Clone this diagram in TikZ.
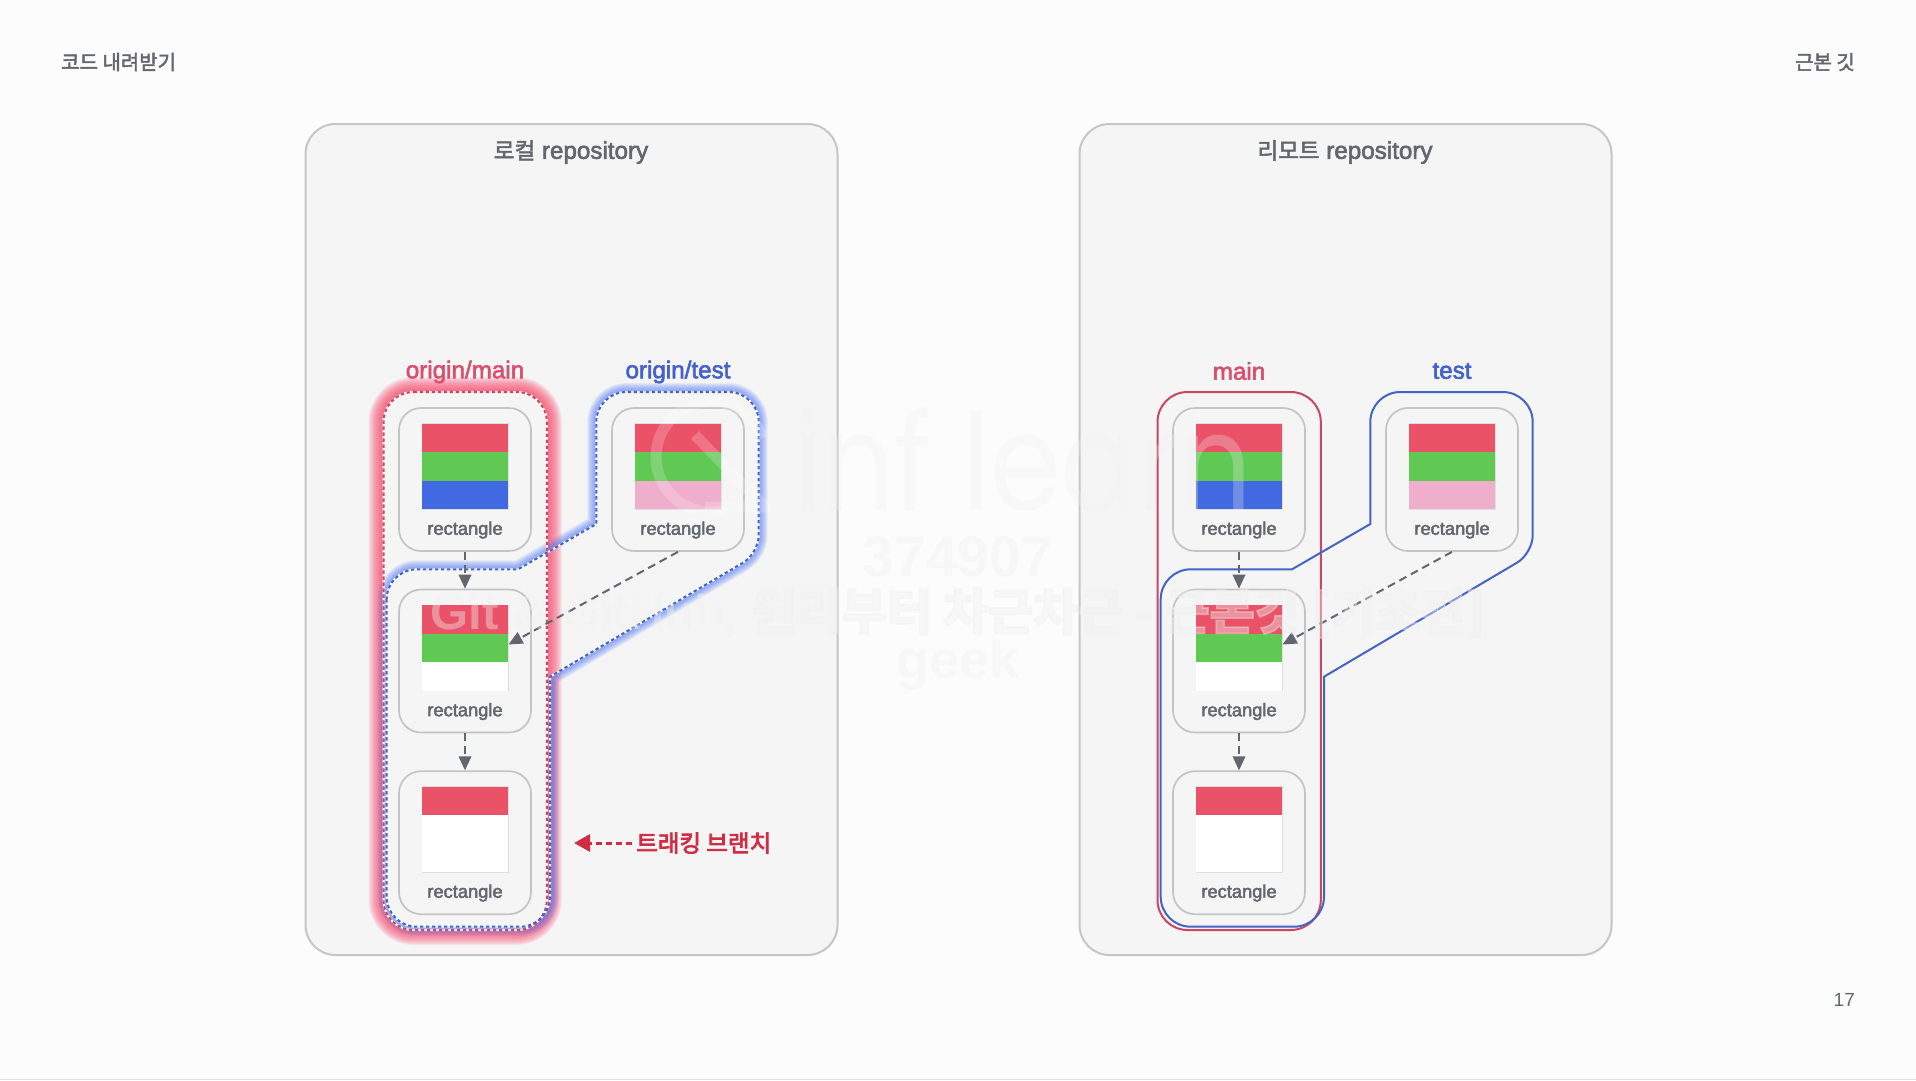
\documentclass[tikz,border=0pt]{standalone}
\usepackage{fontspec}
\usetikzlibrary{arrows.meta}
\setmainfont{Liberation Sans}
\newfontfamily\lat[FakeBold=2.4]{Liberation Sans}
\newfontfamily\kr[FakeBold=2.2]{Noto Sans CJK KR}
\newfontfamily\krb[FakeBold=3.2]{Noto Sans CJK KR}
\newfontfamily\logofont{Poppins}
\newcommand{\fsz}[1]{\fontsize{#1}{#1}\selectfont}
\definecolor{pagebg}{HTML}{FCFCFC}
\definecolor{panelbg}{HTML}{F5F5F6}
\definecolor{panelline}{HTML}{C6C6C6}
\definecolor{cardline}{HTML}{C4C4C4}
\definecolor{ink}{HTML}{62666D}
\definecolor{sred}{HTML}{EA5268}
\definecolor{sgreen}{HTML}{60C954}
\definecolor{sblue}{HTML}{4169E1}
\definecolor{spink}{HTML}{EFAECB}
\definecolor{lred}{HTML}{D9506E}
\definecolor{lblue}{HTML}{4562C9}
\definecolor{ored}{HTML}{C9475F}
\definecolor{oblue}{HTML}{4464C4}
\definecolor{gred}{HTML}{FB4F70}
\definecolor{gblue}{HTML}{4A74F5}
\definecolor{track}{HTML}{D22C44}
\definecolor{wminkcol}{HTML}{F0F0F0}
\tikzset{
  panel/.style={draw=panelline,fill=panelbg,line width=2pt,rounded corners=30pt},
  card/.style={draw=cardline,fill=panelbg,line width=1.7pt,rounded corners=22pt,minimum width=132pt,minimum height=143pt,inner sep=0pt},
  cardtext/.style={font=\lat\fsz{18.3},text=ink,inner sep=0pt},
  branch/.style={font=\lat\fsz{24.2},inner sep=0pt},
  title/.style={font=\lat\fsz{24.2},text=ink,inner sep=0pt},
  link/.style={draw=ink,line width=2pt,dash pattern=on 8pt off 5pt,-{Triangle[length=14pt,width=12.5pt]}},
  wmark/.style={opacity=0.4,text=wminkcol,inner sep=0pt},
}
\newcommand{\redshape}{[rounded corners=30pt] (383.5,392) -- (546.8,392) -- (546.8,930) -- (383.5,930) -- cycle}
\newcommand{\blueshape}{(386.7,600) [rounded corners=30pt] -- (386.7,569.3) [sharp corners] -- (518,569.3) -- (596.3,524) [rounded corners=30pt] -- (596.3,392) -- (758.7,392) [rounded corners=18pt] -- (758.7,553.4) [sharp corners] -- (550,676.7) [rounded corners=30pt] -- (550,926.7) -- (386.7,926.7) [sharp corners] -- cycle}
\newcommand{\swatch}[5]{%
  \fill[white] (#1-43,#2) rectangle (#1+43,#2+85.6);
  \draw[draw=black!12,line width=.8pt] (#1-43,#2) rectangle (#1+43,#2+85.6);
  \fill[#3] (#1-43,#2) rectangle (#1+43,#2+28.5);
  \fill[#4] (#1-43,#2+28.5) rectangle (#1+43,#2+57);
  \fill[#5] (#1-43,#2+57) rectangle (#1+43,#2+85.6);
}
\newcommand{\glow}[4]{%
  \begin{scope}[even odd rule]
    \clip (-10,-10) rectangle (1926,1090) #2;
    \foreach \w in {#3}
      \draw[draw=#1,line width=\w pt,opacity=#4,line join=round] #2;
  \end{scope}
}
\begin{document}
\begin{tikzpicture}[x=1pt,y=-1pt]
\useasboundingbox (0,0) rectangle (1916,1080);
\fill[pagebg] (0,0) rectangle (1916,1080);
\fill[black!12] (0,1078.8) rectangle (1916,1080);

\node[font=\kr\fsz{20},text=ink,anchor=west,inner sep=0pt] (head) at (61,62) {코드 내려받기};
\node[font=\kr\fsz{20},text=ink,anchor=east,inner sep=0pt] (topic) at (1855,62) {근본 깃};
\node[font=\fsz{19},text=ink,anchor=east,inner sep=0pt] (page) at (1855,1000) {17};

\node[panel,minimum width=532pt,minimum height=831pt] (pl) at (571.5,539.5) {};
\node[panel,minimum width=532pt,minimum height=831pt] (pr) at (1345.5,539.5) {};
\node[title] (tl) at (571,152) {{\kr\fsz{22.5}로컬} repository};
\node[title] (tr) at (1345,152) {{\kr\fsz{22.5}리모트} repository};

\node[branch,text=lred] (om) at (465,372) {origin/main};
\node[branch,text=lblue] (ot) at (678,372) {origin/test};
\node[branch,text=lred] (rm) at (1239,371) {main};
\node[branch,text=lblue] (rt) at (1452,371) {test};

% local branch outlines with glow
\glow{gred}{\redshape}{30,28,26,24,22,20,18,16,14,12,10,8,6,4}{0.1}
\glow{gblue}{\blueshape}{18,16,14,12,10,8,6,4}{0.1}
\draw[white,line width=2pt] \redshape;
\draw[white,line width=2pt] \blueshape;
\draw[ored,line width=2pt,dash pattern=on 3.5pt off 2.5pt] \redshape;
\draw[oblue,line width=2pt,dash pattern=on 3.5pt off 2.5pt] \blueshape;

% remote branch outlines
\begin{scope}[shift={(774,0)}]
  \draw[ored,line width=2pt] \redshape;
  \draw[oblue,line width=2pt] \blueshape;
\end{scope}

% commits
\foreach \dx/\p in {0/a,774/b}{
\begin{scope}[shift={(\dx,0)}]
  \node[card] (\p1) at (465,479.5) {};
  \node[card] (\p2) at (465,661) {};
  \node[card] (\p3) at (465,842.7) {};
  \node[card] (\p4) at (678,479.5) {};
  \swatch{465}{423.7}{sred}{sgreen}{sblue}
  \swatch{465}{605}{sred}{sgreen}{white}
  \swatch{465}{786.7}{sred}{white}{white}
  \swatch{678.3}{423.7}{sred}{sgreen}{spink}
  \node[cardtext] (\p1t) at (465,530) {rectangle};
  \node[cardtext] (\p2t) at (465,711.5) {rectangle};
  \node[cardtext] (\p3t) at (465,893) {rectangle};
  \node[cardtext] (\p4t) at (678,530) {rectangle};
  \coordinate (\p tip) at (508.5,644.5);
  \draw[link] (\p1.south) -- (\p2.north);
  \draw[link] (\p2.south) -- (\p3.north);
  \draw[link] (\p4.south) -- (\p tip);
\end{scope}
}

% tracking label
\node[font=\krb\fsz{23.5},text=track,inner sep=0pt,anchor=west] (tk) at (636,843) {트래킹 브랜치};
\coordinate (tkend) at (574,843);
\draw[track,line width=3pt,dash pattern=on 6pt off 4pt,-{Triangle[length=16pt,width=17pt]}] (632,843) -- (tkend);

% watermark
\node[wmark,font=\bfseries\fsz{57}] (w1) at (958,557) {374907};
\node[wmark,font=\bfseries\fsz{49}] (w2) at (958,613) {Git \& GitHub, {\krb\fsz{49}원리부터 차근차근 - 근본깃 [기초편]}};
\node[wmark,font=\bfseries\fsz{54}] (w3) at (958,665) {geek};
\node[opacity=0.28,text=wminkcol,inner sep=0pt,anchor=base,font=\logofont\fsz{135}] (logo) at (1023,510) {\scalebox{.84}[1]{inf learn}};
\begin{scope}[opacity=0.2]
  \draw[white,line width=11pt] (762.7,438.2) arc[start angle=20,end angle=285,radius=55pt];
  \draw[white,line width=11pt,line join=round] (695,435) -- (765,507) -- (705,507);
\end{scope}
\end{tikzpicture}
\end{document}
